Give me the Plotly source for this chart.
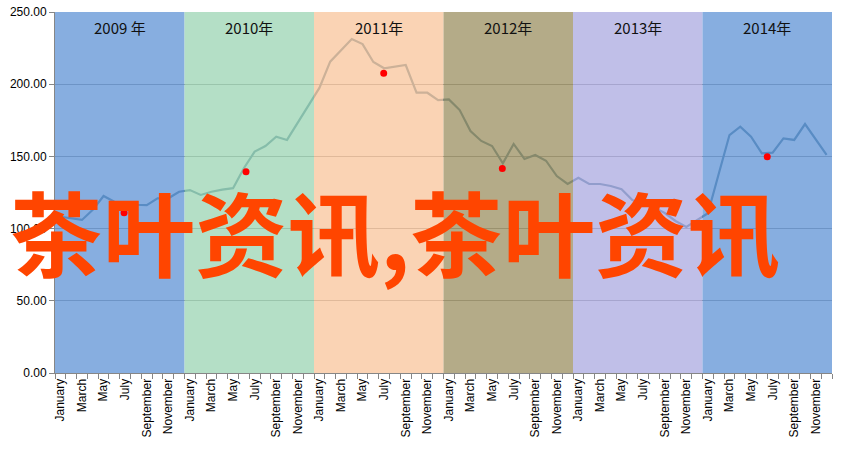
import plotly.graph_objects as go

# ---------------- data ----------------
years = ["2009 年", "2010年", "2011年", "2012年", "2013年", "2014年"]
months = ["January", "February", "March", "April", "May", "June", "July",
          "August", "September", "October", "November", "December"]

values = [
    # 2009
    108.2, 107.0, 106.0, 113.0, 122.6, 118.6, 117.0, 116.5, 116.3, 121.0, 121.0, 125.5,
    # 2010
    126.7, 123.3, 125.5, 127.0, 128.0, 141.8, 153.3, 157.2, 163.6, 161.4, 173.1, 184.9,
    # 2011
    197.4, 215.6, 223.7, 231.3, 227.8, 215.4, 211.0, 212.1, 213.3, 194.1, 194.1, 189.0,
    # 2012
    189.5, 182.1, 167.6, 160.7, 157.2, 145.2, 158.6, 148.2, 151.0, 147.0, 136.4, 130.9,
    # 2013
    135.2, 130.9, 130.9, 129.5, 127.2, 119.8, 117.0, 114.6, 110.8, 105.3, 101.1, 106.0,
    # 2014
    110.6, 137.8, 164.8, 170.6, 163.6, 152.1, 152.6, 162.5, 161.4, 172.4, 161.4, 151.0,
]

dot_x = [5.9, 17.2, 29.96, 40.95, 65.5]
dot_values = [111.0, 139.4, 207.5, 141.7, 149.8]

band_colors = ["rgb(105,154,216)", "rgb(161,215,184)", "rgb(249,200,161)",
               "rgb(161,150,106)", "rgb(176,175,226)", "rgb(105,154,216)"]

overlay_text = "茶叶资讯,茶叶资讯"

# ---------------- figure ----------------
n = len(values)
xs = list(range(n))
per_year = len(months)

fig = go.Figure()
fig.add_trace(go.Scatter(
    x=xs, y=values, mode="lines",
    line=dict(color="rgb(25,85,115)", width=2.2),
    hoverinfo="skip", showlegend=False,
))

shapes = []
for k, col in enumerate(band_colors):
    shapes.append(dict(
        type="rect", xref="x", yref="y",
        x0=k * per_year - 0.5, x1=(k + 1) * per_year - 0.5,
        y0=0, y1=250, fillcolor=col, opacity=0.8,
        line=dict(width=0), layer="above",
    ))
for dx, dv in zip(dot_x, dot_values):
    shapes.append(dict(
        type="circle", xref="x", yref="y",
        xsizemode="pixel", ysizemode="pixel",
        xanchor=dx, yanchor=dv,
        x0=-3.5, x1=3.5, y0=-3.5, y1=3.5,
        fillcolor="#ff0000", line=dict(width=0), layer="above",
    ))

W, H = 845, 449
plot_l, plot_r, plot_t, plot_b = 55, 13, 12, 76

annotations = []
for k, yr in enumerate(years):
    annotations.append(dict(
        x=k * per_year + (per_year - 1) / 2, y=239, xref="x", yref="y",
        text=yr, showarrow=False,
        font=dict(family="Noto Sans CJK SC, sans-serif", size=15, color="#111111"),
    ))
annotations.append(dict(
    x=(395 - plot_l) / (W - plot_l - plot_r),
    y=(H - plot_b - 229.5) / (H - plot_t - plot_b),
    xref="paper", yref="paper", text=overlay_text, showarrow=False,
    font=dict(family="Noto Sans CJK SC, sans-serif", size=92.5, color="#ff4500", weight="bold"),
))

tickvals = [i for i in xs if i % 2 == 0]
ticktext = [months[i % per_year] for i in tickvals]

fig.update_layout(
    width=W, height=H,
    margin=dict(l=plot_l, r=plot_r, t=plot_t, b=plot_b, autoexpand=False),
    paper_bgcolor="white", plot_bgcolor="white",
    shapes=shapes, annotations=annotations,
    showlegend=False, hovermode=False,
    xaxis=dict(
        range=[-0.5, n - 0.5], tickmode="array", tickvals=tickvals, ticktext=ticktext,
        tickangle=-90, ticks="", showgrid=False, zeroline=False, automargin=False,
        showline=True, linecolor="#868686", linewidth=1,
        tickfont=dict(family="Liberation Sans, Arial, sans-serif", size=12, color="#000000"),
        minor=dict(tickmode="array", tickvals=[i - 0.5 for i in range(n + 1)],
                   ticks="outside", ticklen=5, tickcolor="#868686", showgrid=False),
    ),
    yaxis=dict(
        range=[0, 250], dtick=50, tickformat=".2f", ticks="outside", ticklen=5,
        tickcolor="#868686", showgrid=True, gridcolor="#7f7f7f", gridwidth=1,
        zeroline=False, showline=True, linecolor="#868686", linewidth=1, automargin=False,
        ticklabeloverflow="allow",
        tickfont=dict(family="Liberation Sans, Arial, sans-serif", size=12, color="#000000"),
    ),
)

fig.write_html("out.html", config={"displayModeBar": False},
               post_script="document.body.style.margin='0';")
